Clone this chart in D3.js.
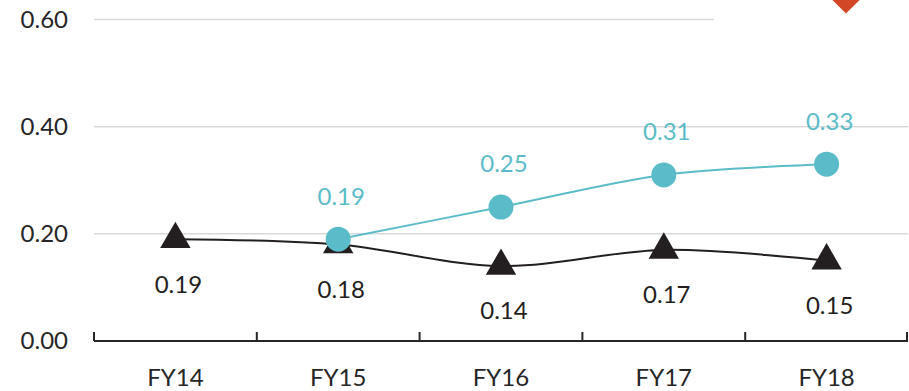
<!DOCTYPE html>
<html>
<head>
<meta charset="utf-8">
<script src="https://cdn.jsdelivr.net/npm/d3@7"></script>
<style>
  html, body { margin: 0; padding: 0; background: #fff; }
  svg { display: block; font-family: Lato, "Open Sans", sans-serif; }
</style>
</head>
<body>
<svg id="chart" width="909" height="391"></svg>
<script>
// Fiscal years on the category axis
const categories = ["FY14", "FY15", "FY16", "FY17", "FY18"];
// Series drawn with black triangles (one value per year)
const triangleValues = [0.19, 0.18, 0.14, 0.17, 0.15];
// Series drawn with cyan circles (starts in FY15)
const circleValues = [null, 0.19, 0.25, 0.31, 0.33];
// Value-axis ticks
const yTicks = [0.0, 0.2, 0.4, 0.6];

const svg = d3.select("#chart");
const plot = { left: 94, right: 908, top: 19.5, bottom: 341 };

const x = d3.scaleBand().domain(categories).range([plot.left, plot.right]);
const y = d3.scaleLinear().domain([0, 0.6]).range([plot.bottom, plot.top]);
const cx = c => x(c) + x.bandwidth() / 2;

// Horizontal gridlines
svg.append("g")
  .selectAll("line")
  .data(yTicks.filter(t => t > 0))
  .join("line")
  .attr("x1", plot.left).attr("x2", plot.right)
  .attr("y1", d => y(d)).attr("y2", d => y(d))
  .attr("stroke", "#D9D9D9").attr("stroke-width", 1.5);

// Legend box (white panel over the top gridline)
const legend = svg.append("g");
legend.append("rect")
  .attr("x", 714).attr("y", -20).attr("width", 195).attr("height", 44)
  .attr("fill", "#fff");
legend.append("path")
  .attr("d", d3.symbol().type(d3.symbolSquare).size(370)())
  .attr("transform", "translate(846,0) rotate(45)")
  .attr("fill", "#D24726");

// Value axis labels
const yAxis = d3.axisLeft(y).tickValues(yTicks).tickFormat(d3.format(".2f")).tickSize(0).tickPadding(0);
svg.append("g")
  .attr("transform", "translate(68,0)")
  .call(yAxis)
  .call(g => g.select(".domain").remove())
  .call(g => g.selectAll("text")
    .attr("font-size", 24).attr("fill", "#262626")
    .attr("font-family", "Lato, 'Open Sans', sans-serif"));

// Category axis with tick marks at category boundaries
const xAxisG = svg.append("g");
xAxisG.append("line")
  .attr("x1", plot.left).attr("x2", plot.right)
  .attr("y1", plot.bottom).attr("y2", plot.bottom)
  .attr("stroke", "#262626").attr("stroke-width", 2);
const bounds = categories.map(c => x(c)).concat([x(categories[categories.length - 1]) + x.bandwidth()]);
xAxisG.selectAll("line.tick")
  .data(bounds)
  .join("line")
  .attr("class", "tick")
  .attr("x1", d => Math.min(d, plot.right - 1)).attr("x2", d => Math.min(d, plot.right - 1))
  .attr("y1", plot.bottom).attr("y2", plot.bottom - 9)
  .attr("stroke", "#262626").attr("stroke-width", 2);
xAxisG.selectAll("text")
  .data(categories)
  .join("text")
  .attr("x", d => cx(d)).attr("y", 386)
  .attr("text-anchor", "middle")
  .attr("font-size", 24).attr("fill", "#262626")
  .text(d => d);

const line = d3.line()
  .defined(d => d.v != null)
  .x(d => cx(d.c)).y(d => y(d.v))
  .curve(d3.curveCatmullRom.alpha(0.5));

const triData = categories.map((c, i) => ({ c, v: triangleValues[i] }));
const cirData = categories.map((c, i) => ({ c, v: circleValues[i] })).filter(d => d.v != null);

// Triangle series
svg.append("path").datum(triData)
  .attr("d", line).attr("fill", "none")
  .attr("stroke", "#231F20").attr("stroke-width", 2);
svg.append("g").selectAll("path")
  .data(triData)
  .join("path")
  .attr("d", d3.symbol().type(d3.symbolTriangle).size(400)())
  .attr("transform", d => `translate(${cx(d.c)},${y(d.v)})`)
  .attr("fill", "#231F20");
svg.append("g").selectAll("text")
  .data(triData)
  .join("text")
  .attr("x", d => cx(d.c) + 3).attr("y", d => y(d.v) + 45)
  .attr("dy", "0.35em")
  .attr("text-anchor", "middle")
  .attr("font-size", 24).attr("fill", "#231F20")
  .text(d => d3.format(".2f")(d.v));

// Circle series
svg.append("path").datum(cirData)
  .attr("d", line).attr("fill", "none")
  .attr("stroke", "#5BBCC9").attr("stroke-width", 2);
svg.append("g").selectAll("circle")
  .data(cirData)
  .join("circle")
  .attr("cx", d => cx(d.c)).attr("cy", d => y(d.v))
  .attr("r", 12.5)
  .attr("fill", "#5BBCC9");
svg.append("g").selectAll("text")
  .data(cirData)
  .join("text")
  .attr("x", d => cx(d.c) + 3).attr("y", d => y(d.v) - 43)
  .attr("dy", "0.35em")
  .attr("text-anchor", "middle")
  .attr("font-size", 24).attr("fill", "#5BBCC9")
  .text(d => d3.format(".2f")(d.v));
</script>
</body>
</html>
